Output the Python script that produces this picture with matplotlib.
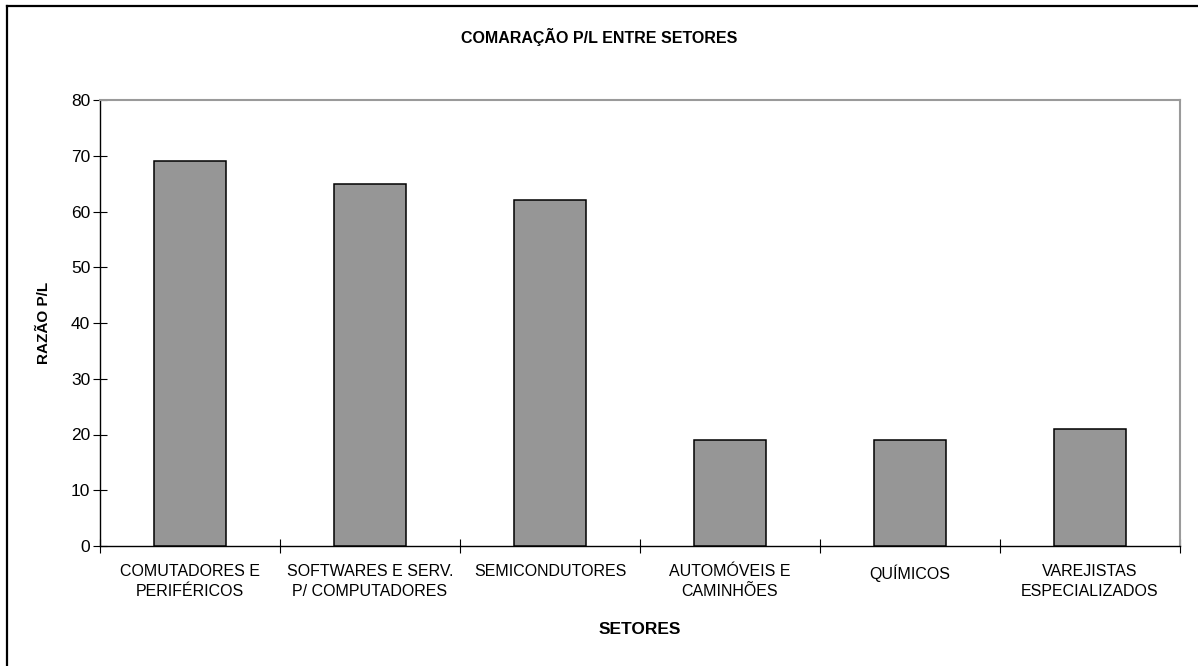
import matplotlib
matplotlib.use("Agg")
import matplotlib.pyplot as plt
from matplotlib.lines import Line2D
import numpy as np

plt.rcParams['font.family'] = ['Liberation Sans', 'DejaVu Sans']

sectors = [
    "COMUTADORES E\nPERIFÉRICOS",
    "SOFTWARES E SERV.\nP/ COMPUTADORES",
    "SEMICONDUTORES",
    "AUTOMÓVEIS E\nCAMINHÕES",
    "QUÍMICOS",
    "VAREJISTAS\nESPECIALIZADOS",
]
pl_ratio = [69, 65, 62, 19, 19, 21]
y_ticks = [0, 10, 20, 30, 40, 50, 60, 70, 80]

W, H = 1198, 666
fig = plt.figure(figsize=(W / 100, H / 100), dpi=100)
ax = fig.add_axes([100 / W, 1 - 546 / H, 1080 / W, 446 / H])

x = np.arange(len(sectors))
ax.bar(x, pl_ratio, width=0.4, color="#969696", edgecolor="black", linewidth=1.1, zorder=3)

ax.set_xlim(-0.5, len(sectors) - 0.5)
ax.set_ylim(0, 80)
ax.set_yticks(y_ticks)
ax.tick_params(axis="y", direction="inout", length=10, width=0.8, labelsize=12.5, pad=2)

# boundary ticks between categories, labels at centers
ax.set_xticks(np.arange(-0.5, len(sectors), 1.0))
ax.set_xticklabels([])
ax.set_xticks(x, minor=True)
ax.set_xticklabels(sectors, minor=True, fontsize=11.5, linespacing=1.4)
ax.tick_params(axis="x", which="major", direction="inout", length=10, width=0.8)
ax.tick_params(axis="x", which="minor", length=0, pad=13)

for side in ("left", "bottom"):
    ax.spines[side].set_color("black")
    ax.spines[side].set_linewidth(1.0)
for side in ("top", "right"):
    ax.spines[side].set_color("#9a9a9a")
    ax.spines[side].set_linewidth(1.5)

ax.set_ylabel("RAZÃO P/L", fontsize=11, fontweight="bold", labelpad=14)
ax.set_xlabel("SETORES", fontsize=12.5, fontweight="bold", labelpad=17)

fig.text(599 / W, 1 - 37 / H, "COMARAÇÃO P/L ENTRE SETORES", ha="center", va="center",
         fontsize=11.5, fontweight="bold")

# outer chart frame (top and left edges)
fig.add_artist(Line2D([7 / W, 1.0], [1 - 6 / H, 1 - 6 / H], transform=fig.transFigure,
                      color="black", linewidth=1.6))
fig.add_artist(Line2D([7 / W, 7 / W], [0.0, 1 - 6 / H], transform=fig.transFigure,
                      color="black", linewidth=1.6))

fig.savefig("out.png", dpi=100)
